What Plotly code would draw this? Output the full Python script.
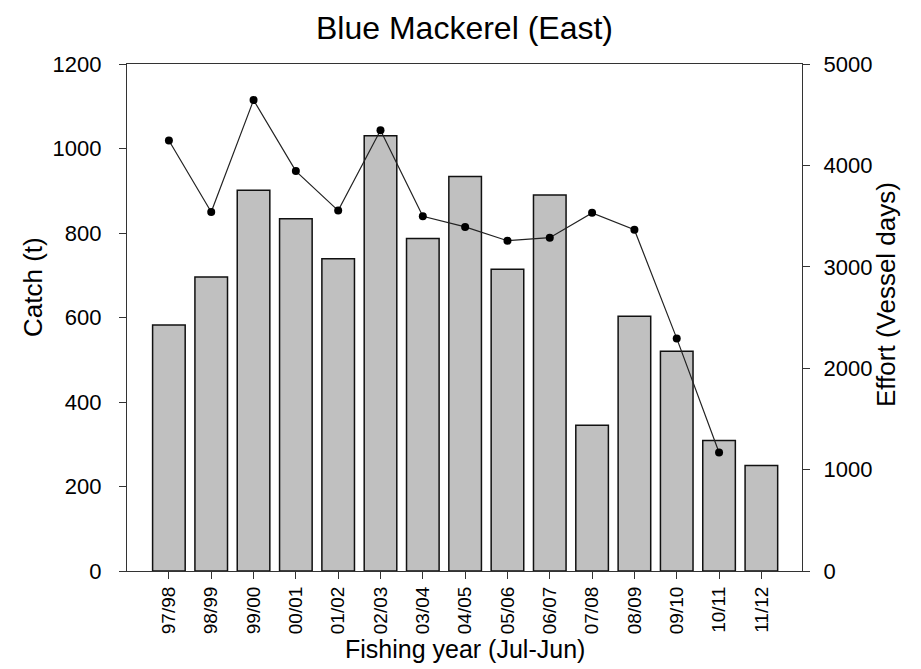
import plotly.graph_objects as go

years = ["97/98", "98/99", "99/00", "00/01", "01/02", "02/03", "03/04", "04/05",
         "05/06", "06/07", "07/08", "08/09", "09/10", "10/11", "11/12"]
catch_t = [582, 696, 901, 834, 739, 1030, 787, 934, 714, 890, 345, 603, 520, 309, 250]
effort_days = [4245, 3541, 4644, 3944, 3554, 4347, 3498, 3393, 3257, 3287, 3532, 3366, 2294, 1168, None]

FONT = "Arial, Liberation Sans, sans-serif"

fig = go.Figure()
fig.add_trace(go.Bar(
    x=list(range(len(years))), y=catch_t, width=0.77,
    marker=dict(color="#C0C0C0", line=dict(color="#111111", width=1.5)),
    name="Catch", showlegend=False,
))
fig.add_trace(go.Scatter(
    x=list(range(len(years))), y=effort_days, yaxis="y2", mode="lines+markers",
    line=dict(color="#222222", width=1.2), marker=dict(color="black", size=8),
    name="Effort", showlegend=False, connectgaps=False,
))

axis_common = dict(showline=True, linecolor="#333333", linewidth=1.2, ticks="outside",
                   ticklen=7, tickcolor="#333333", showgrid=False, zeroline=False,
                   tickfont=dict(family=FONT, size=22, color="black"))

L, R, T, B = 119, 127, 56, 106
W, H = 921, 669
pw = W - L - R
ph = H - T - B


def px_x(x):
    return (x - L) / pw


def px_y(y):
    return (H - B - y) / ph


fig.update_layout(
    width=W, height=H,
    margin=dict(l=L, r=R, t=T, b=B),
    paper_bgcolor="white", plot_bgcolor="white",
    font=dict(family=FONT, color="black"),
    title=dict(text="Blue Mackerel (East)", x=0.5, xref="paper", y=1 - 20 / H,
               yref="container", yanchor="middle", xanchor="center",
               font=dict(family=FONT, size=32, color="black")),
    xaxis=dict(**{**axis_common, "tickfont": dict(family=FONT, size=19, color="black")},
               range=[-0.99, 14.96], tickmode="array",
               tickvals=list(range(len(years))), ticktext=years, tickangle=-90,
               mirror=True, automargin=False),
    yaxis=dict(**axis_common, range=[0, 1200], tickvals=[0, 200, 400, 600, 800, 1000, 1200],
               ticklabelstandoff=13, automargin=False),
    yaxis2=dict(**axis_common, range=[0, 5000], overlaying="y", side="right",
                tickvals=[0, 1000, 2000, 3000, 4000, 5000], ticklabelstandoff=9,
                automargin=False),
    annotations=[
        dict(text="Fishing year (Jul-Jun)", x=0.5, xref="paper", y=px_y(641),
             yref="paper", showarrow=False, xanchor="center", yanchor="middle",
             font=dict(family=FONT, size=25, color="black")),
        dict(text="Catch (t)", x=px_x(25), xref="paper", y=px_y(279), yref="paper",
             showarrow=False, textangle=-90, xanchor="center", yanchor="middle",
             font=dict(family=FONT, size=26, color="black")),
        dict(text="Effort (Vessel days)", x=px_x(878), xref="paper", y=px_y(286),
             yref="paper", showarrow=False, textangle=-90, xanchor="center",
             yanchor="middle", font=dict(family=FONT, size=26, color="black")),
    ],
)

fig.write_html("out.html")
